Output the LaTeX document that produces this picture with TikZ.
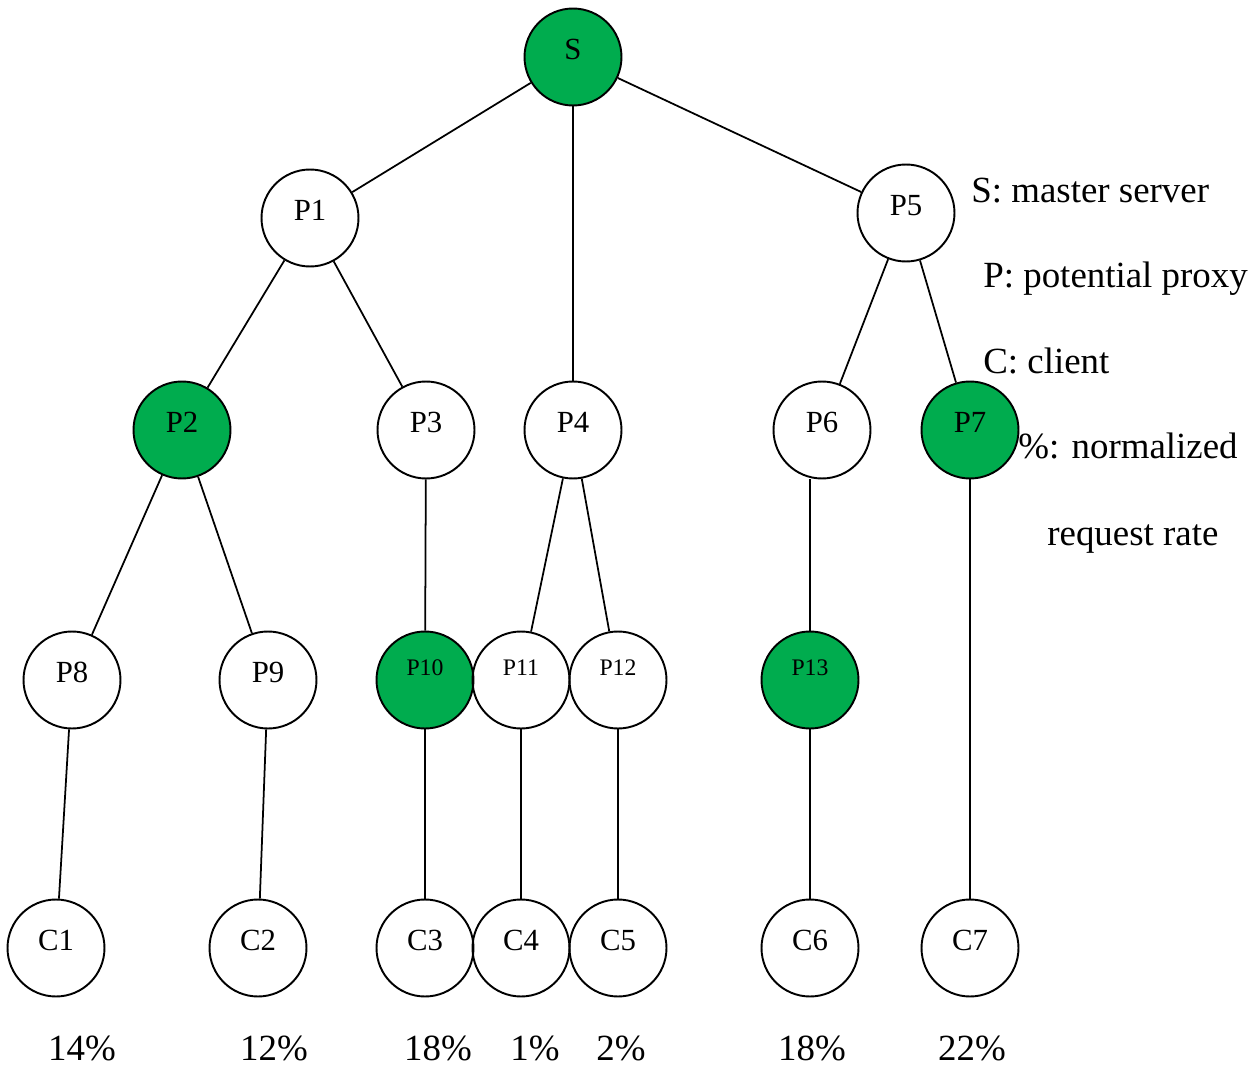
\documentclass[tikz,border=0pt]{standalone}
\usepackage{fontspec}
\setmainfont{Liberation Serif}
\definecolor{selgreen}{RGB}{0,172,78}

\begin{document}
\begin{tikzpicture}[x=0.02cm,y=-0.02cm,
	site/.style={draw,circle,line width=1.1pt,minimum size=1.94cm,inner sep=0pt,font=\fontsize{17.5}{19}\selectfont,text height=12pt,text depth=9pt},
	small/.style={font=\fontsize{13.5}{15}\selectfont,text height=9pt,text depth=14pt},
	sel/.style={fill=selgreen},
	link/.style={line width=1pt},
	rate/.style={font=\fontsize{21}{24}\selectfont,inner sep=0pt},
	legend/.style={anchor=base west,font=\fontsize{21}{24}\selectfont,inner sep=0pt}]
	\useasboundingbox (0,0) rectangle (1259,1078);
	
	% legend
	\node[legend] (kS) at (971,203) {S: master server};
	\node[legend] (kP) at (983,288) {P: potential proxy};
	\node[legend] (kC) at (983,373) {C: client};
	\node[legend] (kR) at (1018,458) {\%: normalized};
	\node[legend] (kR2) at (1047,545) {request rate};
	
	% tree
	\node[site,sel] (S) at (573,57) {S};
	\node[site] (P1) at (310,218) {P1};
	\node[site] (P5) at (906,213) {P5};
	\node[site,sel] (P2) at (182,430) {P2};
	\node[site] (P3) at (426,430) {P3};
	\node[site] (P4) at (573,430) {P4};
	\node[site] (P6) at (822,430) {P6};
	\node[site,sel] (P7) at (970,430) {P7};
	\node[site] (P8) at (72,680) {P8};
	\node[site] (P9) at (268,680) {P9};
	\node[site,small,sel] (P10) at (425,680) {P10};
	\node[site,small] (P11) at (521,680) {P11};
	\node[site,small] (P12) at (618,680) {P12};
	\node[site,small,sel] (P13) at (810,680) {P13};
	\node[site] (C1) at (56,948) {C1};
	\node[site] (C2) at (258,948) {C2};
	\node[site] (C3) at (425,948) {C3};
	\node[site] (C4) at (521,948) {C4};
	\node[site] (C5) at (618,948) {C5};
	\node[site] (C6) at (810,948) {C6};
	\node[site] (C7) at (970,948) {C7};
	
	\draw[link] (S) -- (P1);
	\draw[link] (S) -- (P4);
	\draw[link] (S) -- (P5);
	\draw[link] (P1) -- (P2);
	\draw[link] (P1) -- (P3);
	\draw[link] (P5) -- (P6);
	\draw[link] (P5) -- (P7);
	\draw[link] (P2) -- (P8);
	\draw[link] (P2) -- (P9);
	\draw[link] (P3) -- (P10);
	\draw[link] (P4) -- (P11);
	\draw[link] (P4) -- (P12);
	\draw[link] (P6.south -| P13) -- (P13);
	\draw[link] (P7) -- (C7);
	\draw[link] (P8) -- (C1);
	\draw[link] (P9) -- (C2);
	\draw[link] (P10) -- (C3);
	\draw[link] (P11) -- (C4);
	\draw[link] (P12) -- (C5);
	\draw[link] (P13) -- (C6);
	
	% request rates
	\node[rate] (r1) at (82,1048) {14\%};
	\node[rate] (r2) at (274,1048) {12\%};
	\node[rate] (r3) at (438,1048) {18\%};
	\node[rate] (r4) at (535,1048) {1\%};
	\node[rate] (r5) at (621,1048) {2\%};
	\node[rate] (r6) at (812,1048) {18\%};
	\node[rate] (r7) at (972,1048) {22\%};
\end{tikzpicture}
\end{document}
